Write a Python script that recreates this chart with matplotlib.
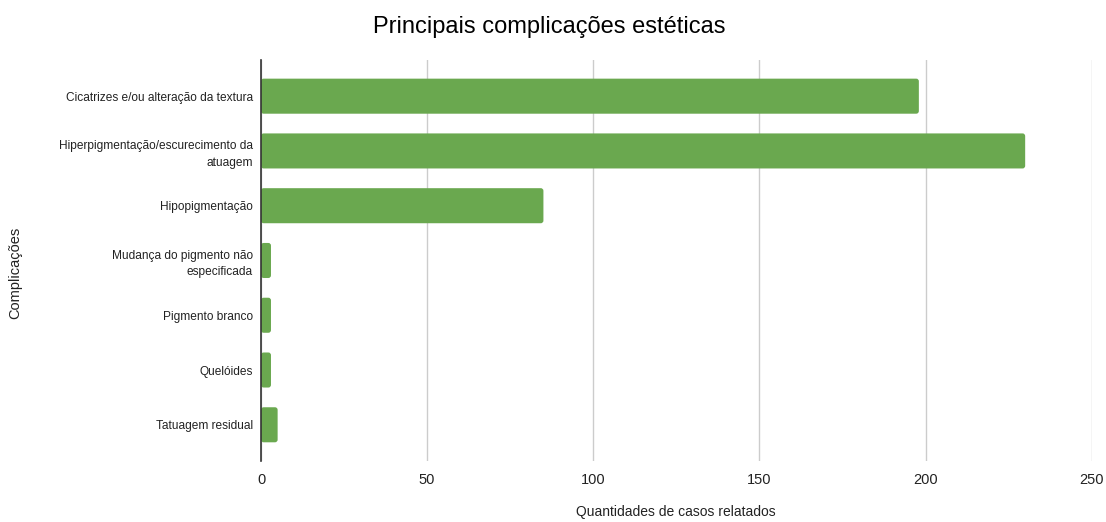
import matplotlib
matplotlib.use("Agg")
import matplotlib.pyplot as plt
from matplotlib.patches import FancyBboxPatch

categories = [
    "Cicatrizes e/ou alteração da textura",
    "Hiperpigmentação/escurecimento da\natuagem",
    "Hipopigmentação",
    "Mudança do pigmento não\nespecificada",
    "Pigmento branco",
    "Quelóides",
    "Tatuagem residual",
]
values = [198, 230, 85, 3, 3, 3, 5]
xticks = [0, 50, 100, 150, 200, 250]

plt.rcParams['font.family'] = ['Liberation Sans', 'DejaVu Sans']

fig = plt.figure(figsize=(11.06, 5.22), dpi=100)
ax = fig.add_axes([0.236, 0.117, 0.751, 0.768])

pos = list(range(len(categories)))
bars = ax.barh(pos, values, height=0.64, color="#6aa84f", zorder=3)
# rounded corners: replace each bar with a rounded patch of the same geometry
for b in bars:
    b.set_visible(False)
    p = FancyBboxPatch((b.get_x(), b.get_y()), b.get_width(), b.get_height(),
                       boxstyle="round,pad=0,rounding_size=0.8",
                       mutation_aspect=0.061, facecolor="#6aa84f",
                       edgecolor="none", zorder=3)
    ax.add_patch(p)

ax.set_ylim(len(categories) - 1 + 0.66, -0.66)
ax.set_xlim(0, 250)
ax.set_yticks(pos)
ax.set_yticklabels(categories, fontsize=8.6, color="#222222",
                   multialignment='right', linespacing=1.5)
ax.set_xticks(xticks)
ax.set_xticklabels([str(t) for t in xticks], fontsize=10.5, color="#222222")
ax.tick_params(axis='both', length=0)
ax.tick_params(axis='x', pad=9)
ax.tick_params(axis='y', pad=6)
ax.grid(axis='x', color="#cccccc", linewidth=1, zorder=0)
for s in ['top', 'right', 'bottom']:
    ax.spines[s].set_visible(False)
ax.spines['left'].set_color("#333333")
ax.spines['left'].set_linewidth(1.2)
ax.spines['left'].set_zorder(4)

fig.text(0.611, 0.006, "Quantidades de casos relatados", fontsize=10, color="#222222",
         ha='center', va='bottom')
fig.text(0.0135, 0.477, "Complicações", rotation=90, fontsize=10.5, color="#222222",
         va='center', ha='center')
fig.text(0.497, 0.948, "Principais complicações estéticas", fontsize=17, color="#000000",
         ha='center', va='center')

fig.savefig("out.png", dpi=100)
